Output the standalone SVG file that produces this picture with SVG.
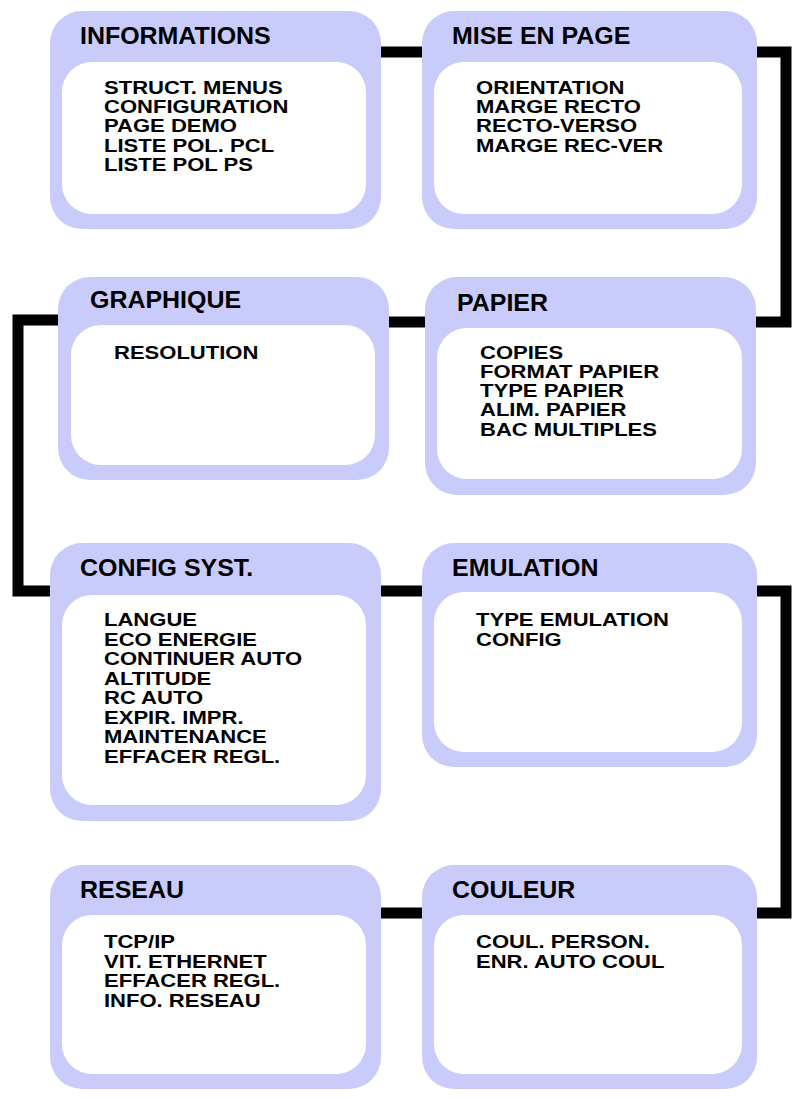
<svg xmlns="http://www.w3.org/2000/svg" width="796" height="1099" viewBox="0 0 796 1099">
<style>
.o{fill:#c9ccfb}
.i{fill:#fff}
.h{font:bold 24px "Liberation Sans",Arial,sans-serif;fill:#000}
.t{font:bold 19px "Liberation Sans",Arial,sans-serif;fill:#000}
.c{fill:none;stroke:#000;stroke-width:11}
</style>
<rect width="796" height="1099" fill="#fff"/>
<g id="connectors">
<path class="c" d="M381 52H422"/>
<path class="c" d="M757 52H786V322H756"/>
<path class="c" d="M389 322H425"/>
<path class="c" d="M58 320H18V591H50"/>
<path class="c" d="M381 591H422"/>
<path class="c" d="M757 591H786V913H757"/>
<path class="c" d="M381 913H422"/>
</g>
<g id="informations">
<rect class="o" x="50" y="11" width="331" height="218" rx="32"/>
<rect class="i" x="62" y="62" width="304" height="152" rx="30"/>
<text class="h" x="80" y="44" transform="matrix(1.04 0 0 1 -3.2 0)">INFORMATIONS</text>
<text class="t" transform="matrix(1.16 0 0 1 -16.64 0)"><tspan x="104" y="94">STRUCT. MENUS</tspan><tspan x="104" y="113">CONFIGURATION</tspan><tspan x="104" y="132">PAGE DEMO</tspan><tspan x="104" y="152">LISTE POL. PCL</tspan><tspan x="104" y="171">LISTE POL PS</tspan></text>
</g>
<g id="mise-en-page">
<rect class="o" x="422" y="11" width="335" height="218" rx="32"/>
<rect class="i" x="434" y="62" width="308" height="152" rx="30"/>
<text class="h" x="452" y="44" transform="matrix(1.04 0 0 1 -18.08 0)">MISE EN PAGE</text>
<text class="t" transform="matrix(1.16 0 0 1 -76.16 0)"><tspan x="476" y="94">ORIENTATION</tspan><tspan x="476" y="113">MARGE RECTO</tspan><tspan x="476" y="132">RECTO-VERSO</tspan><tspan x="476" y="152">MARGE REC-VER</tspan></text>
</g>
<g id="graphique">
<rect class="o" x="58" y="277" width="331" height="203" rx="32"/>
<rect class="i" x="71" y="325" width="304" height="140" rx="30"/>
<text class="h" x="90" y="308" transform="matrix(1.04 0 0 1 -3.6 0)">GRAPHIQUE</text>
<text class="t" x="114" y="359" transform="matrix(1.16 0 0 1 -18.24 0)">RESOLUTION</text>
</g>
<g id="papier">
<rect class="o" x="425" y="277" width="331" height="218" rx="32"/>
<rect class="i" x="437" y="328" width="305" height="151" rx="30"/>
<text class="h" x="457" y="311" transform="matrix(1.04 0 0 1 -18.28 0)">PAPIER</text>
<text class="t" transform="matrix(1.16 0 0 1 -76.8 0)"><tspan x="480" y="359">COPIES</tspan><tspan x="480" y="378">FORMAT PAPIER</tspan><tspan x="480" y="397">TYPE PAPIER</tspan><tspan x="480" y="416">ALIM. PAPIER</tspan><tspan x="480" y="436">BAC MULTIPLES</tspan></text>
</g>
<g id="config-syst">
<rect class="o" x="50" y="543" width="331" height="278" rx="32"/>
<rect class="i" x="62" y="595" width="304" height="210" rx="30"/>
<text class="h" x="80" y="576" transform="matrix(1.04 0 0 1 -3.2 0)">CONFIG SYST.</text>
<text class="t" transform="matrix(1.16 0 0 1 -16.64 0)"><tspan x="104" y="626">LANGUE</tspan><tspan x="104" y="646">ECO ENERGIE</tspan><tspan x="104" y="665">CONTINUER AUTO</tspan><tspan x="104" y="685">ALTITUDE</tspan><tspan x="104" y="704">RC AUTO</tspan><tspan x="104" y="724">EXPIR. IMPR.</tspan><tspan x="104" y="743">MAINTENANCE</tspan><tspan x="104" y="763">EFFACER REGL.</tspan></text>
</g>
<g id="emulation">
<rect class="o" x="422" y="543" width="335" height="224" rx="32"/>
<rect class="i" x="434" y="592" width="308" height="160" rx="30"/>
<text class="h" x="452" y="576" transform="matrix(1.04 0 0 1 -18.08 0)">EMULATION</text>
<text class="t" transform="matrix(1.16 0 0 1 -76.16 0)"><tspan x="476" y="626">TYPE EMULATION</tspan><tspan x="476" y="646">CONFIG</tspan></text>
</g>
<g id="reseau">
<rect class="o" x="50" y="865" width="331" height="224" rx="32"/>
<rect class="i" x="62" y="915" width="304" height="159" rx="30"/>
<text class="h" x="80" y="898" transform="matrix(1.04 0 0 1 -3.2 0)">RESEAU</text>
<text class="t" transform="matrix(1.16 0 0 1 -16.64 0)"><tspan x="104" y="948">TCP/IP</tspan><tspan x="104" y="968">VIT. ETHERNET</tspan><tspan x="104" y="987">EFFACER REGL.</tspan><tspan x="104" y="1007">INFO. RESEAU</tspan></text>
</g>
<g id="couleur">
<rect class="o" x="422" y="865" width="335" height="224" rx="32"/>
<rect class="i" x="434" y="915" width="308" height="159" rx="30"/>
<text class="h" x="452" y="898" transform="matrix(1.04 0 0 1 -18.08 0)">COULEUR</text>
<text class="t" transform="matrix(1.16 0 0 1 -76.16 0)"><tspan x="476" y="948">COUL. PERSON.</tspan><tspan x="476" y="968">ENR. AUTO COUL</tspan></text>
</g>
</svg>
